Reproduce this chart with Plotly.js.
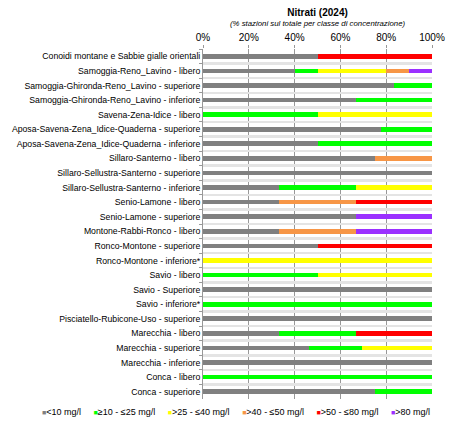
<!DOCTYPE html>
<html>
<head>
<meta charset="utf-8">
<script src="https://cdn.plot.ly/plotly-3.0.1.min.js"></script>
<style>
  html, body { margin: 0; padding: 0; background: white; }
  #chart { width: 450px; height: 424px; }
</style>
</head>
<body>
<div id="chart"></div>
<script>
// Nitrati (2024) - % stazioni per classe di concentrazione

const categories = [
    'Conoidi montane e Sabbie gialle orientali',
    'Samoggia-Reno_Lavino - libero',
    'Samoggia-Ghironda-Reno_Lavino - superiore',
    'Samoggia-Ghironda-Reno_Lavino - inferiore',
    'Savena-Zena-Idice - libero',
    'Aposa-Savena-Zena_Idice-Quaderna - superiore',
    'Aposa-Savena-Zena_Idice-Quaderna - inferiore',
    'Sillaro-Santerno - libero',
    'Sillaro-Sellustra-Santerno - superiore',
    'Sillaro-Sellustra-Santerno - inferiore',
    'Senio-Lamone - libero',
    'Senio-Lamone - superiore',
    'Montone-Rabbi-Ronco - libero',
    'Ronco-Montone - superiore',
    'Ronco-Montone - inferiore*',
    'Savio - libero',
    'Savio - Superiore',
    'Savio - inferiore*',
    'Pisciatello-Rubicone-Uso - superiore',
    'Marecchia - libero',
    'Marecchia - superiore',
    'Marecchia - inferiore',
    'Conca - libero',
    'Conca - superiore'
];

const lt10   = [50, 40, 83.3, 66.7, 0, 77.8, 50, 75, 100, 33.3, 33.3, 66.7, 33.3, 50, 0, 0, 100, 0, 100, 33.3, 46.2, 100, 0, 75];
const r10_25 = [0, 10, 16.7, 33.3, 50, 22.2, 50, 0, 0, 33.3, 0, 0, 0, 0, 0, 50, 0, 100, 0, 33.3, 23.1, 0, 100, 25];
const r25_40 = [0, 30, 0, 0, 50, 0, 0, 0, 0, 33.4, 0, 0, 0, 0, 100, 50, 0, 0, 0, 0, 30.7, 0, 0, 0];
const r40_50 = [0, 10, 0, 0, 0, 0, 0, 25, 0, 0, 33.3, 0, 33.3, 0, 0, 0, 0, 0, 0, 0, 0, 0, 0, 0];
const r50_80 = [50, 0, 0, 0, 0, 0, 0, 0, 0, 0, 33.4, 0, 0, 50, 0, 0, 0, 0, 0, 33.4, 0, 0, 0, 0];
const gt80   = [0, 10, 0, 0, 0, 0, 0, 0, 0, 0, 0, 33.3, 33.4, 0, 0, 0, 0, 0, 0, 0, 0, 0, 0, 0];

const seriesNames = ['&lt;10 mg/l', '≥10 - ≤25 mg/l', '&gt;25 - ≤40 mg/l', '&gt;40 - ≤50 mg/l', '&gt;50 - ≤80 mg/l', '&gt;80 mg/l'];
const seriesValues = [lt10, r10_25, r25_40, r40_50, r50_80, gt80];
const seriesColors = ['#808080', '#00FF00', '#FFFF00', '#F79646', '#FF0000', '#9B30FF'];

const FONT = 'Liberation Sans, Arial, sans-serif';

const barTraces = seriesValues.map((vals, i) => ({
    type: 'bar',
    orientation: 'h',
    x: vals,
    y: categories,
    name: seriesNames[i],
    marker: {color: seriesColors[i], line: {width: 0}},
    hoverinfo: 'x+y+name'
}));

// Plotly's own legend is too wide for one row here (40px symbol slot per item),
// so the legend is written as one line of text with small coloured squares
const legendText = seriesNames.map((n, i) =>
    '<span style="color:' + seriesColors[i] + ';font-size:7px">■</span>' + n
).join('&nbsp;&nbsp;&nbsp;&nbsp;&nbsp;');

const layout = {
    barmode: 'stack',
    bargap: 0.68,
    width: 450,
    height: 424,
    showlegend: false,
    title: {
        text: '<b>Nitrati (2024)</b>',
        font: {family: FONT, size: 10, color: '#000'},
        x: 0.5,
        xref: 'paper',
        y: 0.97,
        yanchor: 'middle',
        automargin: false
    },
    xaxis: {
        side: 'top',
        range: [0, 100],
        dtick: 20,
        ticksuffix: '%',
        showgrid: true,
        gridcolor: '#989898',
        gridwidth: 1,
        zeroline: false,
        ticks: 'outside',
        ticklen: 3,
        tickcolor: '#989898',
        tickfont: {family: FONT, size: 10, color: '#000'},
        fixedrange: true
    },
    yaxis: {
        type: 'category',
        autorange: 'reversed',
        tickson: 'boundaries',
        ticks: 'outside',
        ticklen: 3,
        tickcolor: '#989898',
        showgrid: true,
        gridcolor: '#E4E4E4',
        gridwidth: 2.5,
        showline: true,
        linecolor: '#989898',
        tickfont: {family: FONT, size: 8.7, color: '#000'},
        fixedrange: true
    },
    annotations: [
        {
            text: '<i>(% stazioni sul totale per classe di concentrazione)</i>',
            xref: 'paper',
            yref: 'paper',
            x: 0.5,
            y: 1.072,
            yanchor: 'middle',
            showarrow: false,
            font: {family: FONT, size: 7.8, color: '#000'}
        },
        {
            text: legendText,
            xref: 'paper',
            yref: 'paper',
            x: 1,
            xanchor: 'right',
            y: -0.018,
            yanchor: 'top',
            showarrow: false,
            font: {family: FONT, size: 9, color: '#000'}
        }
    ],
    margin: {l: 203, r: 18, t: 49, b: 25},
    plot_bgcolor: 'white',
    paper_bgcolor: 'white'
};

Plotly.newPlot('chart', barTraces, layout, {displayModeBar: false, staticPlot: true});
</script>
</body>
</html>
